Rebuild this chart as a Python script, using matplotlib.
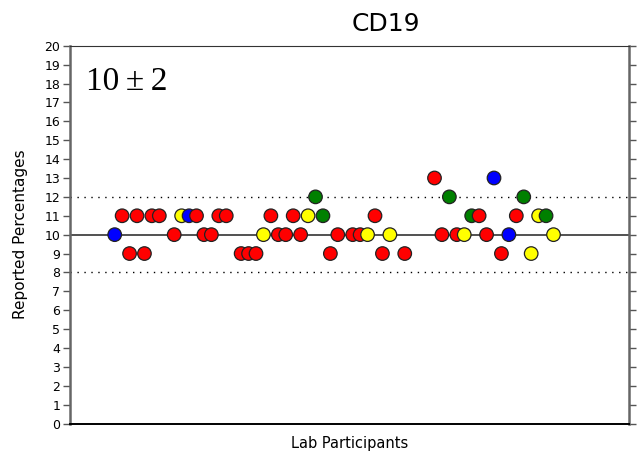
import matplotlib
matplotlib.use("Agg")
import matplotlib.pyplot as plt

# lab number, reported value, colour group
labs = [1, 2, 3, 4, 5, 6, 7, 9, 10, 11, 12, 13, 14, 15, 16, 18, 19, 20,
        21, 22, 23, 24, 25, 26, 27, 28, 29, 30, 31, 33, 34, 35, 36, 37, 38,
        40, 44, 45, 46, 47, 48, 49, 50, 51, 52, 53, 54, 55, 56, 57, 58, 59, 60]
values = [10, 11, 9, 11, 9, 11, 11, 10, 11, 11, 11, 10, 10, 11, 11, 9, 9, 9,
          10, 11, 10, 10, 11, 10, 11, 12, 11, 9, 10, 10, 10, 10, 11, 9, 10,
          9, 13, 10, 12, 10, 10, 11, 11, 10, 13, 9, 10, 11, 12, 9, 11, 11, 10]
groups = ['b', 'r', 'r', 'r', 'r', 'r', 'r', 'r', 'y', 'b', 'r', 'r', 'r', 'r', 'r', 'r', 'r', 'r',
          'y', 'r', 'r', 'r', 'r', 'r', 'y', 'g', 'g', 'r', 'r', 'r', 'r', 'y', 'r', 'r', 'y',
          'r', 'r', 'r', 'g', 'r', 'y', 'g', 'r', 'r', 'b', 'r', 'b', 'r', 'g', 'y', 'y', 'g', 'y']

target = 10
tolerance = 2
palette = {'r': '#ff0000', 'b': '#0000ff', 'y': '#ffff00', 'g': '#008000'}

fig = plt.figure(figsize=(6.37, 4.53), dpi=100)
ax = fig.add_axes([0.110, 0.065, 0.878, 0.834])

ax.axhline(target, color='#333333', lw=1.2, zorder=1)
ax.axhline(target + tolerance, color='black', lw=1, ls=(0, (1, 4)), zorder=1)
ax.axhline(target - tolerance, color='black', lw=1, ls=(0, (1, 4)), zorder=1)

ax.scatter(labs, values, s=95, c=[palette[g] for g in groups],
           edgecolors='#222222', linewidths=0.9, zorder=3)

ax.set_xlim(-5, 70.2)
ax.set_ylim(0, 20)
ax.set_yticks(range(0, 21))
ax.set_xticks(range(0, 70, 10))
ax.set_xticklabels([])
ax.tick_params(axis='x', direction='inout', length=3, width=1.5, color='white')
ax.tick_params(axis='y', direction='out', length=5, width=1, color='#555555',
               labelsize=9, pad=2, right=True)

for side in ['left', 'right']:
    ax.spines[side].set_color('#666666')
    ax.spines[side].set_linewidth(1.8)
ax.spines['top'].set_color('#333333')
ax.spines['bottom'].set_color('black')
ax.spines['bottom'].set_linewidth(1.4)

ax.set_ylabel('Reported Percentages', fontsize=11, labelpad=12)
ax.set_xlabel('Lab Participants', fontsize=10.5, labelpad=4)
fig.text(0.606, 0.948, 'CD19', fontsize=18, ha='center', va='center')
ax.text(0.028, 0.905, '10\u2009\u00b1\u20092', transform=ax.transAxes, fontsize=24,
        family=['Liberation Serif', 'DejaVu Serif'], va='center', ha='left')

fig.savefig('out.png', dpi=100)
